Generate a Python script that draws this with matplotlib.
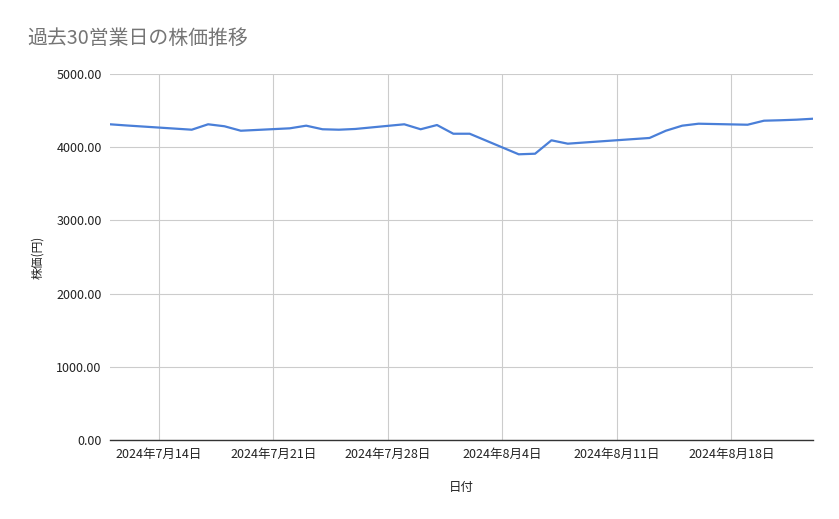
import numpy as np
import matplotlib
matplotlib.use("Agg")
import matplotlib.pyplot as plt
import matplotlib.dates as mdates
from matplotlib.ticker import FuncFormatter

plt.rcParams['font.family'] = ['Noto Sans CJK JP', 'DejaVu Sans']

# 取引日 (30 business days)
dates = ["2024-07-11", "2024-07-12", "2024-07-16", "2024-07-17", "2024-07-18",
         "2024-07-19", "2024-07-22", "2024-07-23", "2024-07-24", "2024-07-25",
         "2024-07-26", "2024-07-29", "2024-07-30", "2024-07-31", "2024-08-01",
         "2024-08-02", "2024-08-05", "2024-08-06", "2024-08-07", "2024-08-08",
         "2024-08-09", "2024-08-13", "2024-08-14", "2024-08-15", "2024-08-16",
         "2024-08-19", "2024-08-20", "2024-08-21", "2024-08-22", "2024-08-23"]
prices = [4313, 4297, 4239, 4313, 4286,
          4225, 4258, 4294, 4245, 4239,
          4249, 4313, 4245, 4303, 4184,
          4184, 3903, 3911, 4094, 4048,
          4064, 4126, 4225, 4294, 4321,
          4307, 4362, 4368, 4376, 4389]
week_ticks = ["2024-07-14", "2024-07-21", "2024-07-28",
              "2024-08-04", "2024-08-11", "2024-08-18"]

x = np.array(dates, dtype="datetime64[D]")
xt = np.array(week_ticks, dtype="datetime64[D]")

fig = plt.figure(figsize=(8.39, 5.19), dpi=100)
ax = fig.add_axes([110/839, 1-440/519, (813-110)/839, (440-74)/519])

ax.plot(x, prices, color="#4a7fd8", lw=1.6, zorder=3)

ax.set_xlim(x[0], x[-1])
ax.set_ylim(0, 5000)
ax.set_yticks(np.arange(0, 5001, 1000))
ax.yaxis.set_major_formatter(FuncFormatter(lambda v, p: f"{v:.2f}"))
ax.set_xticks(xt)
ax.xaxis.set_major_formatter(FuncFormatter(
    lambda v, p: "{0}年{1}月{2}日".format(*[int(s) for s in
        mdates.num2date(v).strftime("%Y-%m-%d").split("-")])))

ax.grid(True, color="#cccccc", lw=0.8)
ax.set_axisbelow(True)
for s in ["top", "right", "left"]:
    ax.spines[s].set_visible(False)
ax.spines["bottom"].set_color("#333333")
ax.spines["bottom"].set_linewidth(1.0)
ax.spines["bottom"].set_zorder(4)
ax.tick_params(axis="both", length=0, labelsize=9, labelcolor="#222222")
ax.tick_params(axis="y", pad=6)
ax.tick_params(axis="x", pad=6)

ax.set_xlabel("日付", fontsize=9, color="#222222", labelpad=14)
ax.set_ylabel("株価(円)", fontsize=8.5, color="#222222", labelpad=9)

fig.text(27/839, 1-38/519, "過去30営業日の株価推移", fontsize=14.3,
         color="#757575", va="center", ha="left")

fig.savefig("out.png", dpi=100)
